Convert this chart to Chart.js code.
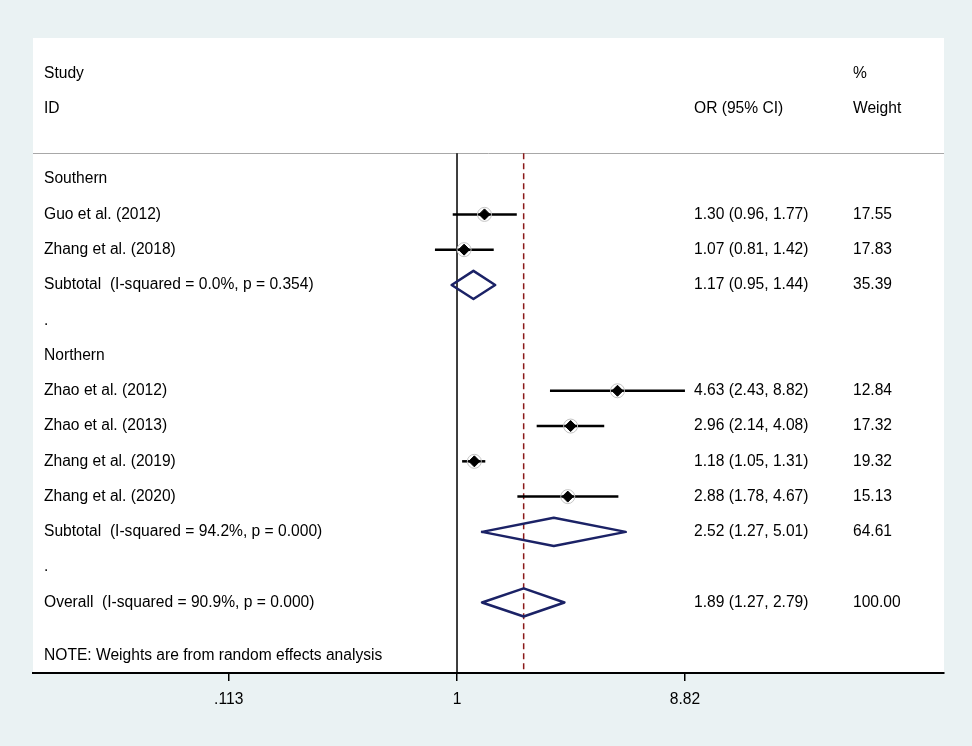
<!DOCTYPE html>
<html>
<head>
<meta charset="utf-8">
<script src="https://cdn.jsdelivr.net/npm/chart.js@4.4.1/dist/chart.umd.min.js"></script>
<style>
  html, body { margin: 0; padding: 0; background: #eaf2f3; }
  #wrap { width: 972px; height: 746px; }
</style>
</head>
<body>
<div id="wrap"><canvas id="forest"></canvas></div>
<script>
// study level data
var studyNames = ['Guo et al. (2012)', 'Zhang et al. (2018)', 'Zhao et al. (2012)', 'Zhao et al. (2013)', 'Zhang et al. (2019)', 'Zhang et al. (2020)'];
var studyOR = [1.30, 1.07, 4.63, 2.96, 1.18, 2.88];
var studyLo = [0.96, 0.81, 2.43, 2.14, 1.05, 1.78];
var studyHi = [1.77, 1.42, 8.82, 4.08, 1.31, 4.67];
var studyWeight = ['17.55', '17.83', '12.84', '17.32', '19.32', '15.13'];
var studyRow = [4, 5, 9, 10, 11, 12];

// pooled estimates (subtotals + overall)
var pooledNames = ['Subtotal  (I-squared = 0.0%, p = 0.354)', 'Subtotal  (I-squared = 94.2%, p = 0.000)', 'Overall  (I-squared = 90.9%, p = 0.000)'];
var pooledOR = [1.17, 2.52, 1.89];
var pooledLo = [0.95, 1.27, 1.27];
var pooledHi = [1.44, 5.01, 2.79];
var pooledWeight = ['35.39', '64.61', '100.00'];
var pooledRow = [6, 13, 15];

var groupNames = ['Southern', 'Northern'];
var groupRow = [3, 8];
var spacerRow = [7, 14];

var xTicks = [0.113, 1, 8.82];
var xTickLabels = ['.113', '1', '8.82'];
var overallOR = 1.89;

var sepRow = 2.27, noteRow = 16.5, lastRow = 17;
var xMin = 0.01743, xMax = 104.7;
var FONT = '15.6px "Liberation Sans", Arial, sans-serif';

var datasets = [];

// point estimates
datasets.push({
    data: studyOR.map(function (v, i) { return { x: v, y: studyRow[i] }; }),
    pointStyle: 'rectRot', pointRadius: 5.5, backgroundColor: '#000', borderColor: '#000', borderWidth: 1,
    showLine: false, order: 0
});
// weight boxes (faint)
datasets.push({
    data: studyOR.map(function (v, i) { return { x: v, y: studyRow[i] }; }),
    pointStyle: 'circle', pointRadius: 7, backgroundColor: 'rgba(0,0,0,0)', borderColor: '#c4c4c4', borderWidth: 1,
    showLine: false, order: 1
});
// CI lines
studyOR.forEach(function (v, i) {
    datasets.push({
        data: [{ x: studyLo[i], y: studyRow[i] }, { x: studyHi[i], y: studyRow[i] }],
        showLine: true, borderColor: '#000', borderWidth: 2.5, pointRadius: 0, order: 2
    });
});
// diamonds
pooledOR.forEach(function (v, i) {
    var r = pooledRow[i];
    datasets.push({
        data: [{ x: pooledLo[i], y: r }, { x: v, y: r - 0.4 }, { x: pooledHi[i], y: r }, { x: v, y: r + 0.4 }, { x: pooledLo[i], y: r }],
        showLine: true, borderColor: '#1b2266', borderWidth: 2.5, borderJoinStyle: 'round', borderCapStyle: 'round',
        pointRadius: 0, order: 2
    });
});
// null line
datasets.push({
    data: [{ x: 1, y: sepRow }, { x: 1, y: lastRow }],
    showLine: true, borderColor: '#000', borderWidth: 1.5, pointRadius: 0, order: 3
});
// overall effect line
datasets.push({
    data: [{ x: overallOR, y: sepRow }, { x: overallOR, y: lastRow }],
    showLine: true, borderColor: '#8b1a1a', borderWidth: 1.5, borderDash: [6, 4], pointRadius: 0, order: 3
});

var forestPlugin = {
    id: 'forestText',
    beforeDraw: function (chart) {
        var ctx = chart.ctx, a = chart.chartArea, ys = chart.scales.y;
        ctx.save();
        ctx.fillStyle = '#eaf2f3';
        ctx.fillRect(0, 0, chart.width, chart.height);
        ctx.fillStyle = '#ffffff';
        ctx.fillRect(a.left, a.top, a.right - a.left, a.bottom - a.top);
        var sy = Math.round(ys.getPixelForValue(sepRow)) + 0.5;
        ctx.strokeStyle = '#a8a8a8';
        ctx.lineWidth = 1;
        ctx.beginPath(); ctx.moveTo(a.left, sy); ctx.lineTo(a.right, sy); ctx.stroke();
        ctx.restore();
    },
    afterDraw: function (chart) {
        var ctx = chart.ctx, a = chart.chartArea, ys = chart.scales.y;
        var colStudy = a.left + 11, colOR = a.left + 661, colW = a.left + 820;
        ctx.save();
        ctx.font = FONT;
        ctx.fillStyle = '#000';
        ctx.textBaseline = 'middle';
        ctx.textAlign = 'left';
        function put(t, x, row) { ctx.fillText(t, x, ys.getPixelForValue(row)); }
        function ci(o, l, h) { return o.toFixed(2) + ' (' + l.toFixed(2) + ', ' + h.toFixed(2) + ')'; }

        put('Study', colStudy, 0);
        put('ID', colStudy, 1);
        put('%', colW, 0);
        put('OR (95% CI)', colOR, 1);
        put('Weight', colW, 1);

        groupNames.forEach(function (g, i) { put(g, colStudy, groupRow[i]); });
        spacerRow.forEach(function (r) { put('.', colStudy, r); });
        studyNames.forEach(function (n, i) {
            put(n, colStudy, studyRow[i]);
            put(ci(studyOR[i], studyLo[i], studyHi[i]), colOR, studyRow[i]);
            put(studyWeight[i], colW, studyRow[i]);
        });
        pooledNames.forEach(function (n, i) {
            put(n, colStudy, pooledRow[i]);
            put(ci(pooledOR[i], pooledLo[i], pooledHi[i]), colOR, pooledRow[i]);
            put(pooledWeight[i], colW, pooledRow[i]);
        });
        put('NOTE: Weights are from random effects analysis', colStudy, noteRow);
        ctx.restore();
    }
};

new Chart(document.getElementById('forest').getContext('2d'), {
    type: 'scatter',
    data: { datasets: datasets },
    options: {
        responsive: true,
        maintainAspectRatio: false,
        animation: false,
        events: [],
        layout: { padding: { left: 33, right: 28, top: 38, bottom: 0 } },
        plugins: { legend: { display: false }, tooltip: { enabled: false } },
        scales: {
            x: {
                type: 'logarithmic',
                min: xMin, max: xMax, bounds: 'data',
                afterBuildTicks: function (s) { s.ticks = xTicks.map(function (v) { return { value: v }; }); },
                afterFit: function (s) { s.height = 73; },
                border: { display: true, color: '#000', width: 2 },
                grid: { drawOnChartArea: false, drawTicks: true, tickLength: 8, tickColor: '#000', lineWidth: 1.5 },
                ticks: {
                    autoSkip: false, maxRotation: 0, padding: 9, color: '#000',
                    font: { family: '"Liberation Sans", Arial, sans-serif', size: 15.6 },
                    callback: function (v) { var k = xTicks.indexOf(v); return k < 0 ? '' : xTickLabels[k]; }
                }
            },
            y: { type: 'linear', min: -1, max: lastRow, reverse: true, display: false }
        }
    },
    plugins: [forestPlugin]
});
</script>
</body>
</html>
